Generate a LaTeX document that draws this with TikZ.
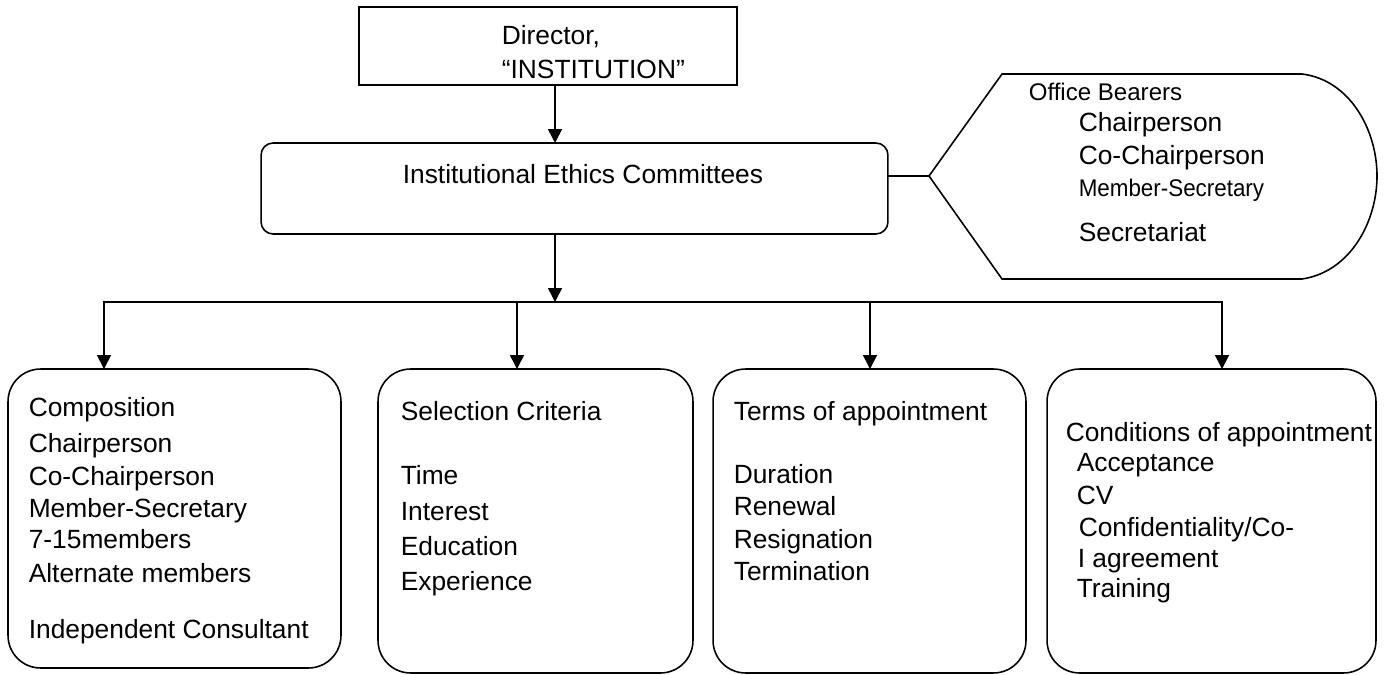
\documentclass[tikz,border=0pt]{standalone}
\usepackage{fontspec}
\setmainfont{Liberation Sans}
\usetikzlibrary{arrows.meta}
\begin{document}
\begin{tikzpicture}[x=0.02cm,y=-0.02cm,
  line width=0.9pt,
  >={Triangle[length=0.28cm,width=0.28cm]},
  box/.style={draw, inner sep=0pt, outer sep=0pt},
  panel/.style={box, rounded corners=0.65cm},
  txt/.style={anchor=base west, inner sep=0pt, font=\fontsize{15}{18}\selectfont},
  smalltxt/.style={txt, font=\fontsize{13.7}{16}\selectfont}]
\useasboundingbox (0,0) rectangle (1388,675);

% --- frames ---
\node[box, minimum width=7.56cm, minimum height=1.56cm] (dir) at (548,46) {};
\node[box, rounded corners=0.24cm, minimum width=12.54cm, minimum height=1.82cm] (iec) at (574.5,188.5) {};
\node[panel, minimum width=6.66cm, minimum height=5.98cm] (b1) at (174.5,518.5) {};
\node[panel, minimum width=6.30cm, minimum height=6.08cm] (b2) at (535.5,521) {};
\node[panel, minimum width=6.26cm, minimum height=6.08cm] (b3) at (869.5,521) {};
\node[panel, minimum width=6.58cm, minimum height=6.08cm] (b4) at (1211.5,521) {};

% office bearers tag shape
\coordinate (obL) at (929,176);
\draw (obL) -- (1002,74) -- (1302,74)
  .. controls (1350,80) and (1377,130) .. (1377,176)
  .. controls (1377,222) and (1350,272) .. (1302,279)
  -- (1002,279) -- cycle;

% --- connectors ---
\coordinate (j1) at (555,302);
\coordinate (t1) at (104,302);
\coordinate (t2) at (517,302);
\coordinate (t3) at (870,302);
\coordinate (t4) at (1222,302);
\draw[->] (dir.south -| j1) -- (iec.north -| j1);
\draw[->] (iec.south -| j1) -- (j1);
\draw[<->] (b1.north -| t1) -- (t1) -- (t4) -- (b4.north -| t4);
\draw[->] (t2) -- (b2.north -| t2);
\draw[->] (t3) -- (b3.north -| t3);
\draw (iec.east |- obL) -- (obL);

% --- texts ---
\node[txt] (dir1) at (501,45) {Director,};
\node[txt] (dir2) at (501,79) {“INSTITUTION”};
\node[txt] (iecT) at (402,184) {Institutional Ethics Committees};

\node[smalltxt] (ob0) at (1028,101) {Office Bearers};
\node[txt] (ob1) at (1078,132) {Chairperson};
\node[txt] (ob2) at (1078,165) {Co-Chairperson};
\node[smalltxt] (ob3) at (1078,197) {\scalebox{0.93}[1]{Member-Secretary}};
\node[txt] (ob4) at (1078,242) {Secretariat};

\node[txt] (c1) at (28,416) {Composition};
\node[txt] (c2) at (28,452) {Chairperson};
\node[txt] (c3) at (28,485) {Co-Chairperson};
\node[txt] (c4) at (28,517) {Member-Secretary};
\node[txt] (c5) at (28,548) {7-15members};
\node[txt] (c6) at (28,582) {Alternate members};
\node[txt] (c7) at (28,638) {Independent Consultant};

\node[txt] (s1) at (400,420) {Selection Criteria};
\node[txt] (s2) at (400,484) {Time};
\node[txt] (s3) at (400,520) {Interest};
\node[txt] (s4) at (400,555) {Education};
\node[txt] (s5) at (400,590) {Experience};

\node[txt] (r1) at (733,420) {Terms of appointment};
\node[txt] (r2) at (733,483) {Duration};
\node[txt] (r3) at (733,515) {Renewal};
\node[txt] (r4) at (733,548) {Resignation};
\node[txt] (r5) at (733,580) {Termination};

\node[txt] (k1) at (1065,441) {Conditions of appointment};
\node[txt] (k2) at (1076,471) {Acceptance};
\node[txt] (k3) at (1076,504) {CV};
\node[txt] (k4) at (1078,536) {Confidentiality/Co-};
\node[txt] (k5) at (1077,567) {I agreement};
\node[txt] (k6) at (1076,597) {Training};
\end{tikzpicture}
\end{document}
